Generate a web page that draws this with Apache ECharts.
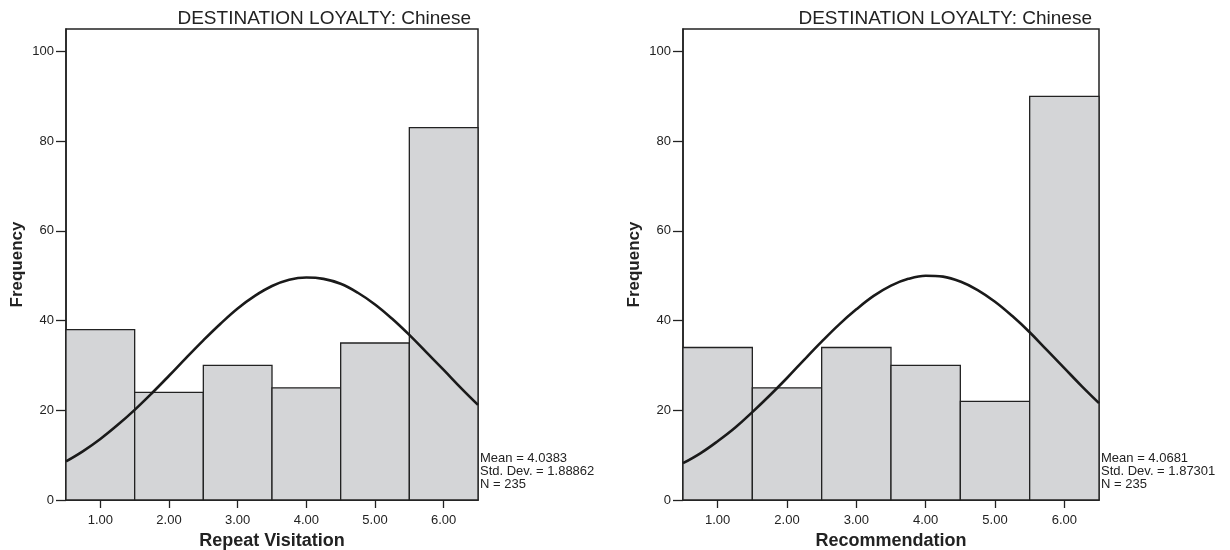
<!DOCTYPE html>
<html><head><meta charset="utf-8">
<script src="https://cdn.jsdelivr.net/npm/echarts@6/dist/echarts.min.js"></script>
<style>html,body{margin:0;padding:0;background:#fff}#c{width:1230px;height:550px}</style>
</head><body><div id="c"></div>
<script>
// ---- data ----
const binCenters = [1, 2, 3, 4, 5, 6];
const binWidth = 1;
const xTickValues = [1, 2, 3, 4, 5, 6];
const xTickLabels = ['1.00', '2.00', '3.00', '4.00', '5.00', '6.00'];
const yTickValues = [0, 20, 40, 60, 80, 100];
const repeatFreq = [38, 24, 30, 25, 35, 83];
const recommendFreq = [34, 25, 34, 30, 22, 90];
const curveX = [0.5, 0.75, 1.0, 1.25, 1.5, 1.75, 2.0, 2.25, 2.5, 2.75, 3.0, 3.25, 3.5, 3.75,
                4.0, 4.25, 4.5, 4.75, 5.0, 5.25, 5.5, 5.75, 6.0, 6.25, 6.5];
const repeatCurve = [8.6, 10.9, 13.6, 16.7, 20.1, 23.8, 27.7, 31.7, 35.6, 39.3, 42.7, 45.5, 47.7, 49.1,
                     49.6, 49.3, 48.2, 46.2, 43.6, 40.4, 36.8, 32.9, 29.0, 25.0, 21.2];
const recommendCurve = [8.2, 10.4, 13.1, 16.1, 19.6, 23.3, 27.2, 31.3, 35.3, 39.1, 42.5, 45.5, 47.8, 49.3,
                        50.0, 49.8, 48.7, 46.8, 44.2, 41.0, 37.4, 33.4, 29.4, 25.4, 21.6];
const panelTitles = ['DESTINATION LOYALTY: Chinese', 'DESTINATION LOYALTY: Chinese'];
const xNames = ['Repeat Visitation', 'Recommendation'];
const yName = 'Frequency';
const repeatStats = ['Mean = 4.0383', 'Std. Dev. = 1.88862', 'N = 235'];
const recommendStats = ['Mean = 4.0681', 'Std. Dev. = 1.87301', 'N = 235'];

// ---- chart ----
const FONT = '"Liberation Sans", Arial, Helvetica, sans-serif';
const INK = '#222';
const grids = [
  { left: 66, top: 29, width: 412, height: 471 },
  { left: 683, top: 29, width: 416, height: 471 }
];

function renderBar(params, api) {
  const x = api.value(0), y = api.value(1);
  const p0 = api.coord([x - binWidth / 2, 0]);
  const p1 = api.coord([x + binWidth / 2, y]);
  return {
    type: 'rect',
    shape: { x: p0[0], y: p1[1], width: p1[0] - p0[0], height: p0[1] - p1[1] },
    style: { fill: '#d4d5d7', stroke: INK, lineWidth: 1.3 }
  };
}

const xAxes = [0, 1].map(i => ({
  type: 'value', gridIndex: i, min: 0.5, max: 6.5,
  name: xNames[i], nameLocation: 'middle', nameGap: 30,
  nameTextStyle: { fontFamily: FONT, fontSize: 18, fontWeight: 'bold', color: INK },
  axisLine: { show: true, lineStyle: { color: INK, width: 1.5 } },
  axisTick: { show: true, length: 8, customValues: xTickValues, lineStyle: { color: INK, width: 1.3 } },
  axisLabel: {
    customValues: xTickValues, margin: 14,
    fontFamily: FONT, fontSize: 13, color: INK,
    formatter: v => xTickLabels[xTickValues.indexOf(v)]
  },
  splitLine: { show: false }
}));

const yAxes = [0, 1].map(i => ({
  type: 'value', gridIndex: i, min: 0, max: 105,
  name: yName, nameLocation: 'middle', nameGap: 40,
  nameTextStyle: { fontFamily: FONT, fontSize: 17, fontWeight: 'bold', color: INK },
  axisLine: { show: true, lineStyle: { color: INK, width: 1.5 } },
  axisTick: { show: true, length: 10, customValues: yTickValues, lineStyle: { color: INK, width: 1.3 } },
  axisLabel: { customValues: yTickValues, margin: 12, fontFamily: FONT, fontSize: 13, color: INK },
  splitLine: { show: false }
}));

const freqs = [repeatFreq, recommendFreq];
const curves = [repeatCurve, recommendCurve];
const series = [];
[0, 1].forEach(i => {
  series.push({
    type: 'custom', xAxisIndex: i, yAxisIndex: i,
    renderItem: renderBar,
    data: binCenters.map((c, k) => [c, freqs[i][k]]),
    z: 2
  });
  series.push({
    type: 'line', xAxisIndex: i, yAxisIndex: i,
    data: curveX.map((x, k) => [x, curves[i][k]]),
    smooth: 0.4, showSymbol: false, symbol: 'none',
    lineStyle: { color: '#1a1a1a', width: 2.6 },
    clip: true, z: 3
  });
});

const statsTexts = [repeatStats, recommendStats];
const titles = [];
[0, 1].forEach(i => {
  titles.push({
    text: panelTitles[i],
    right: 1230 - (grids[i].left + grids[i].width) + 7,
    top: 9,
    padding: [0, 0, 0, 0],
    textStyle: { fontFamily: FONT, fontSize: 19, fontWeight: 'normal', color: INK }
  });
  titles.push({
    text: statsTexts[i].join('\n'),
    left: grids[i].left + grids[i].width + 2,
    top: 452,
    padding: 0,
    textStyle: { fontFamily: FONT, fontSize: 13, fontWeight: 'normal', color: INK, lineHeight: 13 }
  });
});

const chart = echarts.init(document.getElementById('c'), null, { renderer: 'canvas' });
chart.setOption({
  backgroundColor: '#fff',
  animation: false,
  title: titles,
  grid: grids.map(g => Object.assign({
    show: true, borderColor: INK, borderWidth: 1.5, backgroundColor: 'transparent',
    containLabel: false, outerBoundsMode: 'none'
  }, g)),
  xAxis: xAxes,
  yAxis: yAxes,
  series: series
});
</script>
</body></html>
